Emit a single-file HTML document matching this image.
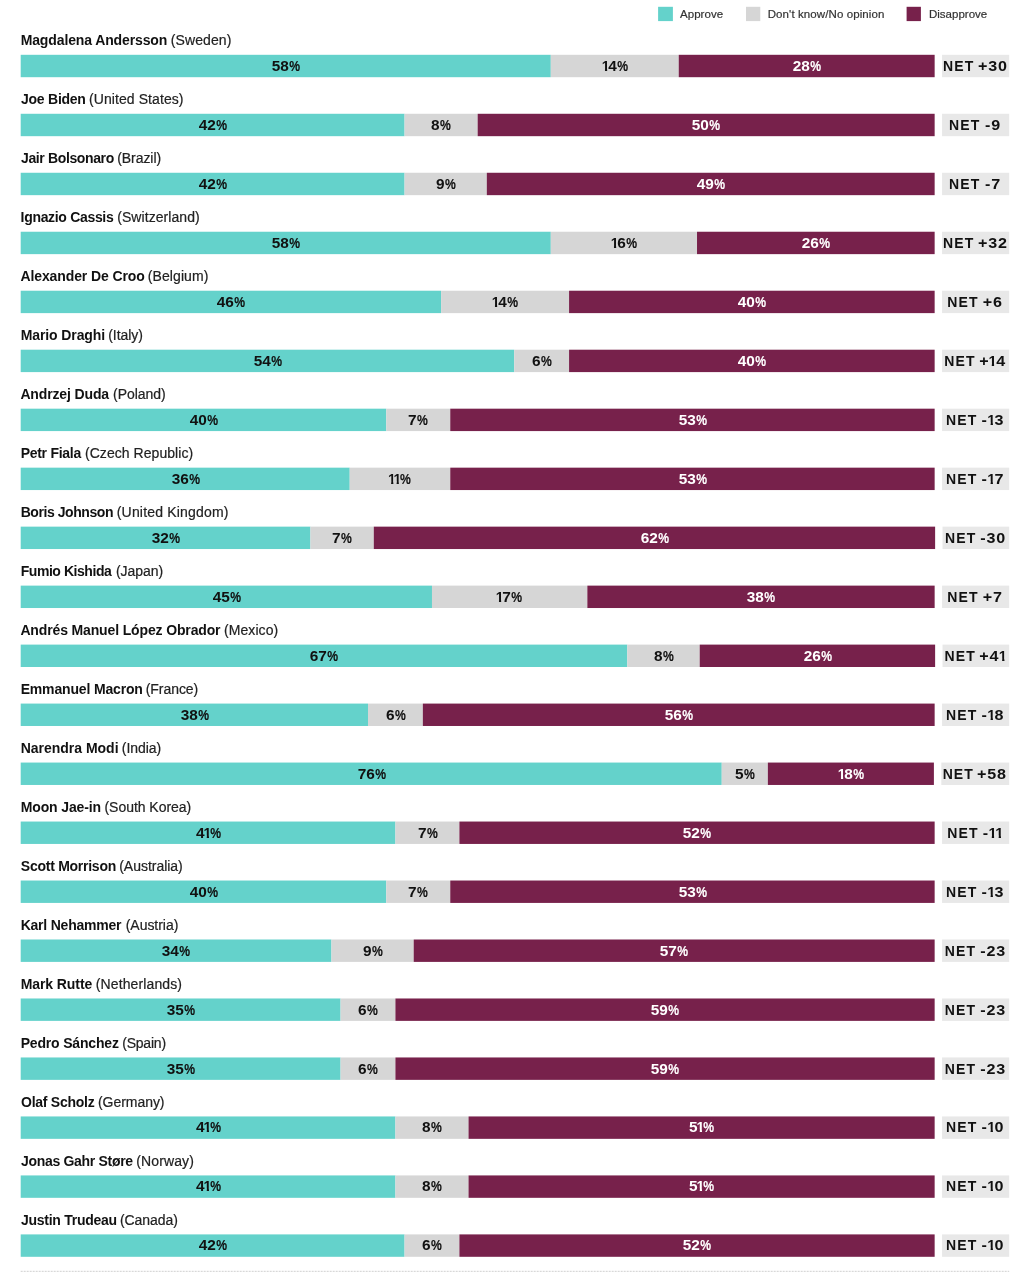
<!DOCTYPE html>
<html lang="en">
<head>
<meta charset="utf-8">
<title>Global Leader Approval Ratings</title>
<style>
*{box-sizing:border-box;margin:0;padding:0}
html,body{width:1024px;height:1277px;background:#fff;overflow:hidden}
body{position:relative;font-family:"Liberation Sans",sans-serif;color:#111}
#bg{position:absolute;left:0;top:0;width:1024px;height:1277px;display:block}
.legend{position:absolute;top:0;left:0;width:1024px;height:28px;list-style:none}
.legend li{position:absolute;top:6px;font-size:11.5px;line-height:16px;color:#333;white-space:nowrap;-webkit-text-stroke:0.2px currentColor}
.name,.bar,.net{position:absolute;white-space:nowrap}
.name{left:0;height:20px;width:600px;font-size:14px;line-height:20px;color:#222}
.name b,.name span{position:absolute;top:0;white-space:pre}
.name b{font-weight:700;color:#111}
.name span{-webkit-text-stroke:0.2px currentColor}
.bar{left:20.7px;width:913.95px;height:22px;display:flex}
.seg{height:100%;flex-basis:0;min-width:0;text-align:center;font-weight:700;font-size:14px;line-height:22px}
.x{color:#fff}
.v{display:inline-block;transform:scaleX(1.1);letter-spacing:0px;margin-right:-0px}
.v i,.v u{display:inline-block;font-style:normal;text-decoration:none;letter-spacing:0;text-align:left;transform-origin:0 50%}
.v i{clip-path:polygon(0 0,5.35px 0,5.35px 100%,3.15px 100%,3.15px 13.6px,0 13.6px);width:5.4px;transform:scaleX(0.92);margin-left:-0.6px;margin-right:0px;-webkit-text-stroke:0px currentColor}
.v u{width:9.8px;transform:scaleX(0.79);margin-left:0px;-webkit-text-stroke:0.15px currentColor}
.net{left:942.05px;width:67.15px;height:22px;text-align:center;font-weight:700;font-size:14px;line-height:22px;letter-spacing:1.1px;color:#111;padding-right:2px}
.net .v{transform:scaleX(1.15);letter-spacing:0.7px;margin:0 0.5px 0 0.5px}
.net .v i{margin-left:-0.6px;margin-right:1.2px}
</style>
</head>
<body>
<svg id="bg" width="1024" height="1277" viewBox="0 0 1024 1277" aria-hidden="true"><rect x="658.1" y="6.8" width="14.8" height="14.3" fill="#64d2cb"/><rect x="746" y="6.8" width="14.3" height="14.3" fill="#d6d6d6"/><rect x="906.6" y="6.8" width="14.3" height="14.3" fill="#77214b"/><rect x="20.7" y="54.8" width="530.09" height="22.4" fill="#64d2cb"/><rect x="550.79" y="54.8" width="127.95" height="22.4" fill="#d6d6d6"/><rect x="678.74" y="54.8" width="255.91" height="22.4" fill="#77214b"/><rect x="942.05" y="54.8" width="67.15" height="22.4" fill="#e8e8e8"/><rect x="20.7" y="113.78" width="383.86" height="22.4" fill="#64d2cb"/><rect x="404.56" y="113.78" width="73.12" height="22.4" fill="#d6d6d6"/><rect x="477.67" y="113.78" width="456.98" height="22.4" fill="#77214b"/><rect x="942.05" y="113.78" width="67.15" height="22.4" fill="#e8e8e8"/><rect x="20.7" y="172.76" width="383.86" height="22.4" fill="#64d2cb"/><rect x="404.56" y="172.76" width="82.26" height="22.4" fill="#d6d6d6"/><rect x="486.81" y="172.76" width="447.84" height="22.4" fill="#77214b"/><rect x="942.05" y="172.76" width="67.15" height="22.4" fill="#e8e8e8"/><rect x="20.7" y="231.74" width="530.09" height="22.4" fill="#64d2cb"/><rect x="550.79" y="231.74" width="146.23" height="22.4" fill="#d6d6d6"/><rect x="697.02" y="231.74" width="237.63" height="22.4" fill="#77214b"/><rect x="942.05" y="231.74" width="67.15" height="22.4" fill="#e8e8e8"/><rect x="20.7" y="290.72" width="420.42" height="22.4" fill="#64d2cb"/><rect x="441.12" y="290.72" width="127.95" height="22.4" fill="#d6d6d6"/><rect x="569.07" y="290.72" width="365.58" height="22.4" fill="#77214b"/><rect x="942.05" y="290.72" width="67.15" height="22.4" fill="#e8e8e8"/><rect x="20.7" y="349.7" width="493.53" height="22.4" fill="#64d2cb"/><rect x="514.23" y="349.7" width="54.84" height="22.4" fill="#d6d6d6"/><rect x="569.07" y="349.7" width="365.58" height="22.4" fill="#77214b"/><rect x="942.05" y="349.7" width="67.15" height="22.4" fill="#e8e8e8"/><rect x="20.7" y="408.68" width="365.58" height="22.4" fill="#64d2cb"/><rect x="386.28" y="408.68" width="63.98" height="22.4" fill="#d6d6d6"/><rect x="450.26" y="408.68" width="484.39" height="22.4" fill="#77214b"/><rect x="942.05" y="408.68" width="67.15" height="22.4" fill="#e8e8e8"/><rect x="20.7" y="467.66" width="329.02" height="22.4" fill="#64d2cb"/><rect x="349.72" y="467.66" width="100.53" height="22.4" fill="#d6d6d6"/><rect x="450.26" y="467.66" width="484.39" height="22.4" fill="#77214b"/><rect x="942.05" y="467.66" width="67.15" height="22.4" fill="#e8e8e8"/><rect x="20.7" y="526.64" width="289.72" height="22.4" fill="#64d2cb"/><rect x="310.42" y="526.64" width="63.38" height="22.4" fill="#d6d6d6"/><rect x="373.79" y="526.64" width="561.33" height="22.4" fill="#77214b"/><rect x="942.52" y="526.64" width="66.68" height="22.4" fill="#e8e8e8"/><rect x="20.7" y="585.62" width="411.28" height="22.4" fill="#64d2cb"/><rect x="431.98" y="585.62" width="155.37" height="22.4" fill="#d6d6d6"/><rect x="587.35" y="585.62" width="347.3" height="22.4" fill="#77214b"/><rect x="942.05" y="585.62" width="67.15" height="22.4" fill="#e8e8e8"/><rect x="20.7" y="644.6" width="606.6" height="22.4" fill="#64d2cb"/><rect x="627.3" y="644.6" width="72.43" height="22.4" fill="#d6d6d6"/><rect x="699.72" y="644.6" width="235.4" height="22.4" fill="#77214b"/><rect x="942.52" y="644.6" width="66.68" height="22.4" fill="#e8e8e8"/><rect x="20.7" y="703.58" width="347.3" height="22.4" fill="#64d2cb"/><rect x="368" y="703.58" width="54.84" height="22.4" fill="#d6d6d6"/><rect x="422.84" y="703.58" width="511.81" height="22.4" fill="#77214b"/><rect x="942.05" y="703.58" width="67.15" height="22.4" fill="#e8e8e8"/><rect x="20.7" y="762.56" width="701.04" height="22.4" fill="#64d2cb"/><rect x="721.74" y="762.56" width="46.12" height="22.4" fill="#d6d6d6"/><rect x="767.86" y="762.56" width="166.04" height="22.4" fill="#77214b"/><rect x="941.3" y="762.56" width="67.9" height="22.4" fill="#e8e8e8"/><rect x="20.7" y="821.54" width="374.72" height="22.4" fill="#64d2cb"/><rect x="395.42" y="821.54" width="63.98" height="22.4" fill="#d6d6d6"/><rect x="459.4" y="821.54" width="475.25" height="22.4" fill="#77214b"/><rect x="942.05" y="821.54" width="67.15" height="22.4" fill="#e8e8e8"/><rect x="20.7" y="880.52" width="365.58" height="22.4" fill="#64d2cb"/><rect x="386.28" y="880.52" width="63.98" height="22.4" fill="#d6d6d6"/><rect x="450.26" y="880.52" width="484.39" height="22.4" fill="#77214b"/><rect x="942.05" y="880.52" width="67.15" height="22.4" fill="#e8e8e8"/><rect x="20.7" y="939.5" width="310.74" height="22.4" fill="#64d2cb"/><rect x="331.44" y="939.5" width="82.26" height="22.4" fill="#d6d6d6"/><rect x="413.7" y="939.5" width="520.95" height="22.4" fill="#77214b"/><rect x="942.05" y="939.5" width="67.15" height="22.4" fill="#e8e8e8"/><rect x="20.7" y="998.48" width="319.88" height="22.4" fill="#64d2cb"/><rect x="340.58" y="998.48" width="54.84" height="22.4" fill="#d6d6d6"/><rect x="395.42" y="998.48" width="539.23" height="22.4" fill="#77214b"/><rect x="942.05" y="998.48" width="67.15" height="22.4" fill="#e8e8e8"/><rect x="20.7" y="1057.46" width="319.88" height="22.4" fill="#64d2cb"/><rect x="340.58" y="1057.46" width="54.84" height="22.4" fill="#d6d6d6"/><rect x="395.42" y="1057.46" width="539.23" height="22.4" fill="#77214b"/><rect x="942.05" y="1057.46" width="67.15" height="22.4" fill="#e8e8e8"/><rect x="20.7" y="1116.44" width="374.72" height="22.4" fill="#64d2cb"/><rect x="395.42" y="1116.44" width="73.12" height="22.4" fill="#d6d6d6"/><rect x="468.54" y="1116.44" width="466.11" height="22.4" fill="#77214b"/><rect x="942.05" y="1116.44" width="67.15" height="22.4" fill="#e8e8e8"/><rect x="20.7" y="1175.42" width="374.72" height="22.4" fill="#64d2cb"/><rect x="395.42" y="1175.42" width="73.12" height="22.4" fill="#d6d6d6"/><rect x="468.54" y="1175.42" width="466.11" height="22.4" fill="#77214b"/><rect x="942.05" y="1175.42" width="67.15" height="22.4" fill="#e8e8e8"/><rect x="20.7" y="1234.4" width="383.86" height="22.4" fill="#64d2cb"/><rect x="404.56" y="1234.4" width="54.84" height="22.4" fill="#d6d6d6"/><rect x="459.4" y="1234.4" width="475.25" height="22.4" fill="#77214b"/><rect x="942.05" y="1234.4" width="67.15" height="22.4" fill="#e8e8e8"/><line x1="20.7" y1="1271.3" x2="1009.2" y2="1271.3" stroke="#cfcfcf" stroke-width="1" stroke-dasharray="2 1"/></svg>
<ul class="legend">
<li style="left:680px;letter-spacing:0.04px">Approve</li>
<li style="left:767.7px;letter-spacing:0.1px">Don't know/No opinion</li>
<li style="left:929px;letter-spacing:0px">Disapprove</li>
</ul>
<section>
<div class="name" style="top:30px"><b style="left:20.67px;letter-spacing:-0.12px">Magdalena Andersson</b> <span style="left:170.78px;letter-spacing:0.09px">(Sweden)</span></div>
<div class="bar" style="top:55px"><div class="seg a" style="flex-grow:58"><span class="v">58<u>%</u></span></div><div class="seg d" style="flex-grow:14"><span class="v"><i>1</i>4<u>%</u></span></div><div class="seg x" style="flex-grow:28"><span class="v">28<u>%</u></span></div></div>
<div class="net" style="top:55px">NET <span class="v">+30</span></div>
</section>
<section>
<div class="name" style="top:89px"><b style="left:21.03px;letter-spacing:-0.25px">Joe Biden</b> <span style="left:89.01px;letter-spacing:0.08px">(United States)</span></div>
<div class="bar" style="top:114px"><div class="seg a" style="flex-grow:42"><span class="v">42<u>%</u></span></div><div class="seg d" style="flex-grow:8"><span class="v">8<u>%</u></span></div><div class="seg x" style="flex-grow:50"><span class="v">50<u>%</u></span></div></div>
<div class="net" style="top:114px">NET <span class="v">-9</span></div>
</section>
<section>
<div class="name" style="top:148px"><b style="left:21.03px;letter-spacing:-0.37px">Jair Bolsonaro</b> <span style="left:117.23px;letter-spacing:-0.06px">(Brazil)</span></div>
<div class="bar" style="top:173px"><div class="seg a" style="flex-grow:42"><span class="v">42<u>%</u></span></div><div class="seg d" style="flex-grow:9"><span class="v">9<u>%</u></span></div><div class="seg x" style="flex-grow:49"><span class="v">49<u>%</u></span></div></div>
<div class="net" style="top:173px">NET <span class="v">-7</span></div>
</section>
<section>
<div class="name" style="top:207px"><b style="left:20.62px;letter-spacing:-0.32px">Ignazio Cassis</b> <span style="left:117.18px;letter-spacing:0.07px">(Switzerland)</span></div>
<div class="bar" style="top:232px"><div class="seg a" style="flex-grow:58"><span class="v">58<u>%</u></span></div><div class="seg d" style="flex-grow:16"><span class="v"><i>1</i>6<u>%</u></span></div><div class="seg x" style="flex-grow:26"><span class="v">26<u>%</u></span></div></div>
<div class="net" style="top:232px">NET <span class="v">+32</span></div>
</section>
<section>
<div class="name" style="top:266px"><b style="left:20.4px;letter-spacing:-0.1px">Alexander De Croo</b> <span style="left:147.76px;letter-spacing:0.09px">(Belgium)</span></div>
<div class="bar" style="top:291px"><div class="seg a" style="flex-grow:46"><span class="v">46<u>%</u></span></div><div class="seg d" style="flex-grow:14"><span class="v"><i>1</i>4<u>%</u></span></div><div class="seg x" style="flex-grow:40"><span class="v">40<u>%</u></span></div></div>
<div class="net" style="top:291px">NET <span class="v">+6</span></div>
</section>
<section>
<div class="name" style="top:325px"><b style="left:20.67px;letter-spacing:-0.1px">Mario Draghi</b> <span style="left:108.23px;letter-spacing:-0.06px">(Italy)</span></div>
<div class="bar" style="top:350px"><div class="seg a" style="flex-grow:54"><span class="v">54<u>%</u></span></div><div class="seg d" style="flex-grow:6"><span class="v">6<u>%</u></span></div><div class="seg x" style="flex-grow:40"><span class="v">40<u>%</u></span></div></div>
<div class="net" style="top:350px">NET <span class="v">+<i>1</i>4</span></div>
</section>
<section>
<div class="name" style="top:384px"><b style="left:20.4px;letter-spacing:-0.14px">Andrzej Duda</b> <span style="left:113.01px;letter-spacing:-0.02px">(Poland)</span></div>
<div class="bar" style="top:409px"><div class="seg a" style="flex-grow:40"><span class="v">40<u>%</u></span></div><div class="seg d" style="flex-grow:7"><span class="v">7<u>%</u></span></div><div class="seg x" style="flex-grow:53"><span class="v">53<u>%</u></span></div></div>
<div class="net" style="top:409px">NET <span class="v">-<i>1</i>3</span></div>
</section>
<section>
<div class="name" style="top:443px"><b style="left:20.67px;letter-spacing:-0.28px">Petr Fiala</b> <span style="left:84.98px;letter-spacing:0.05px">(Czech Republic)</span></div>
<div class="bar" style="top:468px"><div class="seg a" style="flex-grow:36"><span class="v">36<u>%</u></span></div><div class="seg d" style="flex-grow:11"><span class="v"><i>1</i><i>1</i><u>%</u></span></div><div class="seg x" style="flex-grow:53"><span class="v">53<u>%</u></span></div></div>
<div class="net" style="top:468px">NET <span class="v">-<i>1</i>7</span></div>
</section>
<section>
<div class="name" style="top:502px"><b style="left:20.67px;letter-spacing:-0.43px">Boris Johnson</b> <span style="left:116.77px;letter-spacing:0.18px">(United Kingdom)</span></div>
<div class="bar" style="top:527px;width:914.42px"><div class="seg a" style="flex-grow:32"><span class="v">32<u>%</u></span></div><div class="seg d" style="flex-grow:7"><span class="v">7<u>%</u></span></div><div class="seg x" style="flex-grow:62"><span class="v">62<u>%</u></span></div></div>
<div class="net" style="top:527px;left:942.52px;width:66.68px">NET <span class="v">-30</span></div>
</section>
<section>
<div class="name" style="top:561px"><b style="left:20.67px;letter-spacing:-0.44px">Fumio Kishida</b> <span style="left:115.98px;letter-spacing:-0.06px">(Japan)</span></div>
<div class="bar" style="top:586px"><div class="seg a" style="flex-grow:45"><span class="v">45<u>%</u></span></div><div class="seg d" style="flex-grow:17"><span class="v"><i>1</i>7<u>%</u></span></div><div class="seg x" style="flex-grow:38"><span class="v">38<u>%</u></span></div></div>
<div class="net" style="top:586px">NET <span class="v">+7</span></div>
</section>
<section>
<div class="name" style="top:620px"><b style="left:20.4px;letter-spacing:-0.14px">Andrés Manuel López Obrador</b> <span style="left:224.01px;letter-spacing:0.08px">(Mexico)</span></div>
<div class="bar" style="top:645px;width:914.42px"><div class="seg a" style="flex-grow:67"><span class="v">67<u>%</u></span></div><div class="seg d" style="flex-grow:8"><span class="v">8<u>%</u></span></div><div class="seg x" style="flex-grow:26"><span class="v">26<u>%</u></span></div></div>
<div class="net" style="top:645px;left:942.52px;width:66.68px">NET <span class="v">+4<i>1</i></span></div>
</section>
<section>
<div class="name" style="top:679px"><b style="left:20.67px;letter-spacing:-0.16px">Emmanuel Macron</b> <span style="left:145.76px;letter-spacing:-0.06px">(France)</span></div>
<div class="bar" style="top:704px"><div class="seg a" style="flex-grow:38"><span class="v">38<u>%</u></span></div><div class="seg d" style="flex-grow:6"><span class="v">6<u>%</u></span></div><div class="seg x" style="flex-grow:56"><span class="v">56<u>%</u></span></div></div>
<div class="net" style="top:704px">NET <span class="v">-<i>1</i>8</span></div>
</section>
<section>
<div class="name" style="top:738px"><b style="left:20.67px;letter-spacing:-0.01px">Narendra Modi</b> <span style="left:121.77px;letter-spacing:-0.04px">(India)</span></div>
<div class="bar" style="top:763px;width:913.2px"><div class="seg a" style="flex-grow:76"><span class="v">76<u>%</u></span></div><div class="seg d" style="flex-grow:5"><span class="v">5<u>%</u></span></div><div class="seg x" style="flex-grow:18"><span class="v"><i>1</i>8<u>%</u></span></div></div>
<div class="net" style="top:763px;left:941.3px;width:67.9px">NET <span class="v">+58</span></div>
</section>
<section>
<div class="name" style="top:797px"><b style="left:20.67px;letter-spacing:-0.12px">Moon Jae-in</b> <span style="left:104.49px;letter-spacing:-0.04px">(South Korea)</span></div>
<div class="bar" style="top:822px"><div class="seg a" style="flex-grow:41"><span class="v">4<i>1</i><u>%</u></span></div><div class="seg d" style="flex-grow:7"><span class="v">7<u>%</u></span></div><div class="seg x" style="flex-grow:52"><span class="v">52<u>%</u></span></div></div>
<div class="net" style="top:822px">NET <span class="v">-<i>1</i><i>1</i></span></div>
</section>
<section>
<div class="name" style="top:856px"><b style="left:20.84px;letter-spacing:-0.26px">Scott Morrison</b> <span style="left:119.18px;letter-spacing:-0.02px">(Australia)</span></div>
<div class="bar" style="top:881px"><div class="seg a" style="flex-grow:40"><span class="v">40<u>%</u></span></div><div class="seg d" style="flex-grow:7"><span class="v">7<u>%</u></span></div><div class="seg x" style="flex-grow:53"><span class="v">53<u>%</u></span></div></div>
<div class="net" style="top:881px">NET <span class="v">-<i>1</i>3</span></div>
</section>
<section>
<div class="name" style="top:915px"><b style="left:20.67px;letter-spacing:-0.22px">Karl Nehammer</b> <span style="left:125.7px;letter-spacing:-0.03px">(Austria)</span></div>
<div class="bar" style="top:940px"><div class="seg a" style="flex-grow:34"><span class="v">34<u>%</u></span></div><div class="seg d" style="flex-grow:9"><span class="v">9<u>%</u></span></div><div class="seg x" style="flex-grow:57"><span class="v">57<u>%</u></span></div></div>
<div class="net" style="top:940px">NET <span class="v">-23</span></div>
</section>
<section>
<div class="name" style="top:974px"><b style="left:20.67px;letter-spacing:-0.08px">Mark Rutte</b> <span style="left:95.78px;letter-spacing:0.12px">(Netherlands)</span></div>
<div class="bar" style="top:999px"><div class="seg a" style="flex-grow:35"><span class="v">35<u>%</u></span></div><div class="seg d" style="flex-grow:6"><span class="v">6<u>%</u></span></div><div class="seg x" style="flex-grow:59"><span class="v">59<u>%</u></span></div></div>
<div class="net" style="top:999px">NET <span class="v">-23</span></div>
</section>
<section>
<div class="name" style="top:1033px"><b style="left:20.67px;letter-spacing:-0.17px">Pedro Sánchez</b> <span style="left:122.18px;letter-spacing:-0.2px">(Spain)</span></div>
<div class="bar" style="top:1058px"><div class="seg a" style="flex-grow:35"><span class="v">35<u>%</u></span></div><div class="seg d" style="flex-grow:6"><span class="v">6<u>%</u></span></div><div class="seg x" style="flex-grow:59"><span class="v">59<u>%</u></span></div></div>
<div class="net" style="top:1058px">NET <span class="v">-23</span></div>
</section>
<section>
<div class="name" style="top:1092px"><b style="left:21px;letter-spacing:-0.26px">Olaf Scholz</b> <span style="left:98.01px;letter-spacing:-0.05px">(Germany)</span></div>
<div class="bar" style="top:1116px"><div class="seg a" style="flex-grow:41"><span class="v">4<i>1</i><u>%</u></span></div><div class="seg d" style="flex-grow:8"><span class="v">8<u>%</u></span></div><div class="seg x" style="flex-grow:51"><span class="v">5<i>1</i><u>%</u></span></div></div>
<div class="net" style="top:1116px">NET <span class="v">-<i>1</i>0</span></div>
</section>
<section>
<div class="name" style="top:1151px"><b style="left:21.03px;letter-spacing:-0.31px">Jonas Gahr Støre</b> <span style="left:136.27px;letter-spacing:0.11px">(Norway)</span></div>
<div class="bar" style="top:1175px"><div class="seg a" style="flex-grow:41"><span class="v">4<i>1</i><u>%</u></span></div><div class="seg d" style="flex-grow:8"><span class="v">8<u>%</u></span></div><div class="seg x" style="flex-grow:51"><span class="v">5<i>1</i><u>%</u></span></div></div>
<div class="net" style="top:1175px">NET <span class="v">-<i>1</i>0</span></div>
</section>
<section>
<div class="name" style="top:1210px"><b style="left:21.03px;letter-spacing:-0.27px">Justin Trudeau</b> <span style="left:120.01px;letter-spacing:-0.08px">(Canada)</span></div>
<div class="bar" style="top:1234px"><div class="seg a" style="flex-grow:42"><span class="v">42<u>%</u></span></div><div class="seg d" style="flex-grow:6"><span class="v">6<u>%</u></span></div><div class="seg x" style="flex-grow:52"><span class="v">52<u>%</u></span></div></div>
<div class="net" style="top:1234px">NET <span class="v">-<i>1</i>0</span></div>
</section>
</body></html>
